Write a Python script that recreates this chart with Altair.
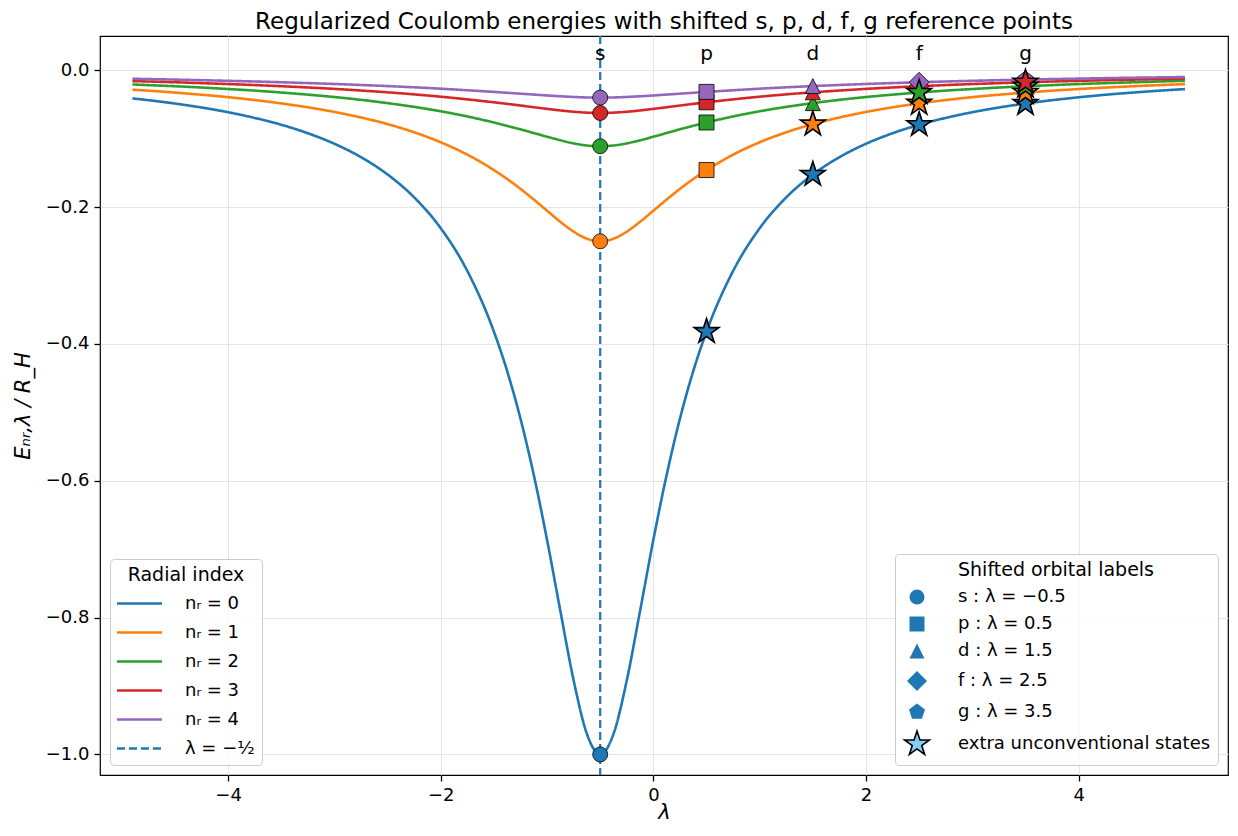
import altair as alt
import pandas as pd

# ---------------- data ----------------
lam = [-4.9, -4.75, -4.5, -4.25, -4.0, -3.75, -3.5, -3.25, -3.0, -2.75, -2.5, -2.25,
       -2.0, -1.75, -1.5, -1.375, -1.25, -1.125, -1.0, -0.875, -0.75, -0.625, -0.5,
       -0.375, -0.25, -0.125, 0.0, 0.125, 0.25, 0.375, 0.5, 0.75, 1.0, 1.25, 1.5, 1.75,
       2.0, 2.25, 2.5, 2.75, 3.0, 3.25, 3.5, 3.75, 4.0, 4.25, 4.5, 4.75, 5.0]

E_nr0 = [-0.0412, -0.0438, -0.0487, -0.0545, -0.0614, -0.0697, -0.0797, -0.0921, -0.1075,
         -0.1271, -0.1524, -0.1858, -0.2309, -0.2934, -0.3820, -0.4398, -0.5092, -0.5914,
         -0.6863, -0.7901, -0.8917, -0.9699, -1.0, -0.9699, -0.8917, -0.7901, -0.6863,
         -0.5914, -0.5092, -0.4398, -0.3820, -0.2934, -0.2309, -0.1858, -0.1524, -0.1271,
         -0.1075, -0.0921, -0.0797, -0.0697, -0.0614, -0.0545, -0.0487, -0.0438, -0.0396,
         -0.0359, -0.0328, -0.0300, -0.0276]
E_nr1 = [-0.0285, -0.0299, -0.0327, -0.0358, -0.0394, -0.0436, -0.0485, -0.0542, -0.0610,
         -0.0691, -0.0788, -0.0907, -0.1053, -0.1234, -0.1459, -0.1590, -0.1734, -0.1890,
         -0.2053, -0.2215, -0.2359, -0.2462, -0.25, -0.2462, -0.2359, -0.2215, -0.2053,
         -0.1890, -0.1734, -0.1590, -0.1459, -0.1234, -0.1053, -0.0907, -0.0788, -0.0691,
         -0.0610, -0.0542, -0.0485, -0.0436, -0.0394, -0.0358, -0.0327, -0.0299, -0.0275,
         -0.0254, -0.0235, -0.0218, -0.0203]
E_nr2 = [-0.0208, -0.0218, -0.0234, -0.0253, -0.0275, -0.0298, -0.0326, -0.0357, -0.0392,
         -0.0433, -0.0481, -0.0536, -0.0600, -0.0676, -0.0764, -0.0813, -0.0864, -0.0918,
         -0.0972, -0.1024, -0.1069, -0.1100, -0.1111, -0.1100, -0.1069, -0.1024, -0.0972,
         -0.0918, -0.0864, -0.0813, -0.0764, -0.0676, -0.0600, -0.0536, -0.0481, -0.0433,
         -0.0392, -0.0357, -0.0326, -0.0298, -0.0275, -0.0253, -0.0234, -0.0218, -0.0202,
         -0.0189, -0.0177, -0.0165, -0.0155]
E_nr3 = [-0.0159, -0.0165, -0.0176, -0.0189, -0.0202, -0.0217, -0.0234, -0.0252, -0.0273,
         -0.0297, -0.0323, -0.0353, -0.0387, -0.0426, -0.0469, -0.0492, -0.0516, -0.0541,
         -0.0565, -0.0588, -0.0607, -0.0620, -0.0625, -0.0620, -0.0607, -0.0588, -0.0565,
         -0.0541, -0.0516, -0.0492, -0.0469, -0.0426, -0.0387, -0.0353, -0.0323, -0.0297,
         -0.0273, -0.0252, -0.0234, -0.0217, -0.0202, -0.0189, -0.0176, -0.0165, -0.0155,
         -0.0146, -0.0138, -0.0130, -0.0123]
E_nr4 = [-0.0125, -0.0130, -0.0137, -0.0146, -0.0155, -0.0165, -0.0176, -0.0188, -0.0201,
         -0.0216, -0.0232, -0.0250, -0.0270, -0.0293, -0.0317, -0.0330, -0.0343, -0.0356,
         -0.0369, -0.0381, -0.0391, -0.0398, -0.0400, -0.0398, -0.0391, -0.0381, -0.0369,
         -0.0356, -0.0343, -0.0330, -0.0317, -0.0293, -0.0270, -0.0250, -0.0232, -0.0216,
         -0.0201, -0.0188, -0.0176, -0.0165, -0.0155, -0.0146, -0.0137, -0.0130, -0.0123,
         -0.0116, -0.0110, -0.0105, -0.0100]

series_labels = ["nᵣ = 0", "nᵣ = 1", "nᵣ = 2", "nᵣ = 3", "nᵣ = 4"]
dash_label = "λ = −½"
series_colors = ["#1f77b4", "#ff7f0e", "#2ca02c", "#d62728", "#9467bd"]

orbital_letters = ["s", "p", "d", "f", "g"]
orbital_lam = [-0.5, 0.5, 1.5, 2.5, 3.5]
orbital_legend = ["s : λ = −0.5", "p : λ = 0.5", "d : λ = 1.5", "f : λ = 2.5", "g : λ = 3.5"]
star_label = "extra unconventional states"

# energy at each orbital reference point, rows n_r = 0..4, columns s, p, d, f, g
marker_E = [
    [-1.0, -0.382, -0.1524, -0.0797, -0.0487],
    [-0.25, -0.1459, -0.0788, -0.0485, -0.0327],
    [-0.1111, -0.0764, -0.0481, -0.0326, -0.0234],
    [-0.0625, -0.0469, -0.0323, -0.0234, -0.0176],
    [-0.04, -0.0317, -0.0232, -0.0176, -0.0137],
]

# ---------------- tables ----------------
curves = [E_nr0, E_nr1, E_nr2, E_nr3, E_nr4]
line_rows = []
for n, ys in enumerate(curves):
    for i, (x, y) in enumerate(zip(lam, ys)):
        line_rows.append({"lam": x, "E": y, "series": series_labels[n], "idx": i})
line_df = pd.DataFrame(line_rows)

mk_rows, star_rows = [], []
for n in range(5):
    for l in range(5):
        row = {"lam": orbital_lam[l], "E": marker_E[n][l], "series": series_labels[n]}
        if n >= l:
            row["orbital"] = orbital_legend[l]
            mk_rows.append(row)
        else:
            row["orbital"] = star_label
            star_rows.append(row)
mk_df = pd.DataFrame(mk_rows)
star_df = pd.DataFrame(star_rows)
rule_df = pd.DataFrame({"lam": [-0.5], "series": [dash_label]})
lab_df = pd.DataFrame({"lam": orbital_lam, "letter": orbital_letters})
# legend-only rows (no position, so nothing is drawn)
legend_df = pd.DataFrame({"lam": [None] * 6, "E": [None] * 6,
                          "orbital": orbital_legend + [star_label]})

# ---------------- scales / legends ----------------
FONT = "DejaVu Sans"
MARK_SIZE = 225
TRI = "M0,-1L1,1L-1,1Z"
DIAM = "M0,-1.333L1.333,0L0,1.333L-1.333,0Z"
PENT = "M0,-1.12L1.0652,-0.3461L0.6583,0.9061L-0.6583,0.9061L-1.0652,-0.3461Z"
STAR = ("M0,-1.733L0.389,-0.5355L1.6483,-0.5355L0.6296,0.2045L1.0187,1.402L0,0.662"
        "L-1.0187,1.402L-0.6296,0.2045L-1.6483,-0.5355L-0.389,-0.5355Z")

all_series = series_labels + [dash_label]
color_scale = alt.Scale(domain=all_series, range=series_colors + ["#1f77b4"])
dash_scale = alt.Scale(domain=all_series, range=[[1, 0]] * 5 + [[8, 4]])
shape_domain = orbital_legend + [star_label]
shape_scale = alt.Scale(domain=shape_domain,
                        range=["circle", "square", TRI, DIAM, PENT, STAR])
fill_scale = alt.Scale(domain=shape_domain, range=["#1f77b4"] * 5 + ["#87cefa"])
stroke_scale = alt.Scale(domain=shape_domain, range=["transparent"] * 5 + ["#000000"])

radial_legend = alt.Legend(
    title="Radial index", orient="bottom-left", offset=10, padding=7,
    symbolType="M-2.5,0L2.5,0", symbolSize=324, symbolStrokeWidth=2.5,
    symbolOffset=12, labelOffset=35, labelFontSize=18, titleFontSize=19,
    titleFontWeight="normal", titleAnchor="middle", titlePadding=8, rowPadding=9,
    labelColor="black", titleColor="black", labelFont=FONT, titleFont=FONT,
    labelLimit=400, titleLimit=400,
    fillColor="rgba(255,255,255,0.8)", strokeColor="#cccccc", cornerRadius=4,
)
orb_legend = alt.Legend(
    title="Shifted orbital labels", orient="bottom-right", offset=10, padding=7,
    labelFontSize=18, titleFontSize=19, titleFontWeight="normal", titleAnchor="middle",
    titlePadding=8, rowPadding=5, symbolOffset=6, labelOffset=32,
    symbolSize=MARK_SIZE, symbolStrokeWidth=1.6, symbolOpacity=1,
    labelColor="black", titleColor="black", labelFont=FONT, titleFont=FONT,
    labelLimit=400, titleLimit=400,
    fillColor="rgba(255,255,255,0.8)", strokeColor="#cccccc", cornerRadius=4,
)

x_enc = alt.X("lam:Q",
              scale=alt.Scale(domain=[-5.205, 5.405], nice=False, zero=False),
              axis=alt.Axis(values=[-4, -2, 0, 2, 4], format="d", title="λ",
                            titleFontStyle="italic", titleY=26, titleBaseline="top"))
y_enc = alt.Y("E:Q",
              scale=alt.Scale(domain=[-1.03, 0.05], nice=False, zero=False),
              axis=alt.Axis(values=[-1.0, -0.8, -0.6, -0.4, -0.2, 0.0], format=".1f",
                            title="Eₙᵣ,λ / R_H", titleFontStyle="italic", titlePadding=12))
color_enc = alt.Color("series:N", scale=color_scale, legend=radial_legend)
dash_enc = alt.StrokeDash("series:N", scale=dash_scale, legend=radial_legend)
color_nolegend = alt.Color("series:N", scale=color_scale, legend=None)
shape_nolegend = alt.Shape("orbital:N", scale=shape_scale, legend=None)

legend_layer = alt.Chart(legend_df).mark_point(
    filled=True, opacity=1, strokeWidth=1.6, size=MARK_SIZE).encode(
    x=x_enc, y=y_enc,
    shape=alt.Shape("orbital:N", scale=shape_scale, legend=orb_legend),
    fill=alt.Fill("orbital:N", scale=fill_scale, legend=orb_legend),
    stroke=alt.Stroke("orbital:N", scale=stroke_scale, legend=orb_legend),
)

rule = alt.Chart(rule_df).mark_rule(strokeWidth=2.2).encode(
    x=x_enc, color=color_enc, strokeDash=dash_enc)

lines = alt.Chart(line_df).mark_line(strokeWidth=2.6, interpolate="monotone").encode(
    x=x_enc, y=y_enc, color=color_enc, strokeDash=dash_enc, order=alt.Order("idx:Q"))

markers = alt.Chart(mk_df).mark_point(filled=True, opacity=1, stroke="black",
                                       strokeWidth=0.8, size=MARK_SIZE).encode(
    x=x_enc, y=y_enc, color=color_nolegend, shape=shape_nolegend)

stars = alt.Chart(star_df).mark_point(filled=True, opacity=1, stroke="black",
                                       strokeWidth=1.6, size=MARK_SIZE).encode(
    x=x_enc, y=y_enc, color=color_nolegend, shape=shape_nolegend)

labels = alt.Chart(lab_df).mark_text(fontSize=20, baseline="alphabetic", align="center",
                                      color="black", font=FONT).encode(
    x=alt.X("lam:Q"), y=alt.datum(0.0146), text="letter:N")

chart = alt.layer(legend_layer, rule, lines, markers, stars, labels).properties(
    width=1128, height=739,
    autosize=alt.AutoSizeParams(type="none"),
    padding={"left": 92, "top": 28, "right": 2, "bottom": 48},
    title=alt.Title("Regularized Coulomb energies with shifted s, p, d, f, g reference points",
                    fontSize=23, font=FONT, fontWeight="normal", anchor="middle",
                    offset=1, color="black"),
).configure(font=FONT).configure_view(
    stroke="black", strokeWidth=1.2
).configure_axis(
    labelFont=FONT, labelFontSize=18, labelColor="black",
    titleFont=FONT, titleFontSize=21, titleFontWeight="normal", titleColor="black",
    tickColor="black", tickSize=6, tickWidth=1.3, labelPadding=5,
    domain=False, gridColor="#e5e5e5", gridWidth=1,
)

chart.save("out.html", embed_options={"renderer": "svg", "actions": False})
